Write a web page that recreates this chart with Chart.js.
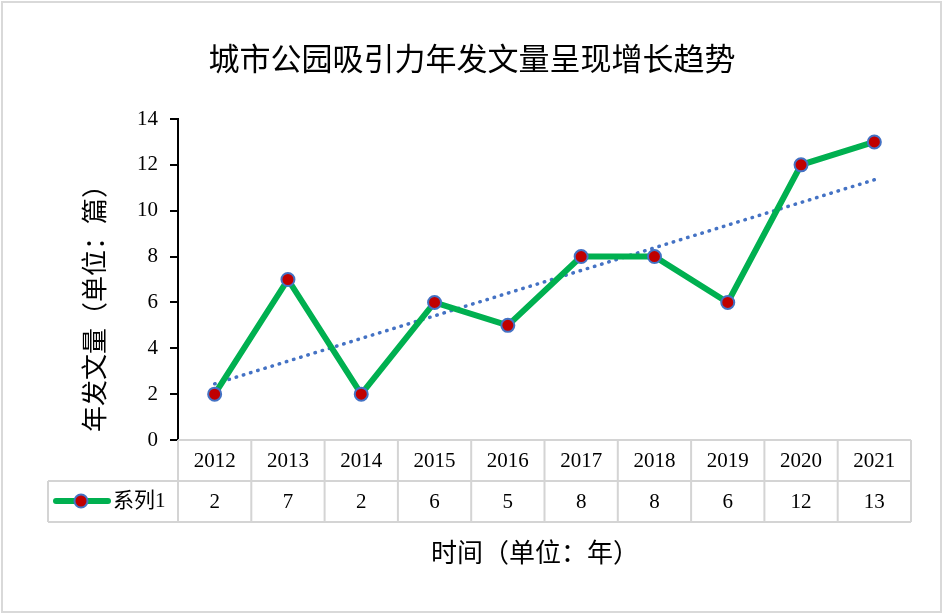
<!DOCTYPE html>
<html>
<head>
<meta charset="utf-8">
<script src="https://cdn.jsdelivr.net/npm/chart.js@4"></script>
<style>
  html, body { margin: 0; padding: 0; background: #fff; }
  #wrap { width: 944px; height: 615px; }
</style>
</head>
<body>
<div id="wrap"><canvas id="trendChart"></canvas></div>
<script>
const years = ['2012', '2013', '2014', '2015', '2016', '2017', '2018', '2019', '2020', '2021'];
const counts = [2, 7, 2, 6, 5, 8, 8, 6, 12, 13];
// trendline endpoints
const trendYears = ['2012', '2021'];
const trendValues = [2.45, 11.35];
const yTicks = [0, 2, 4, 6, 8, 10, 12, 14];

const serif = '"Liberation Serif", "Noto Sans CJK SC", serif';
const cjk = '"Noto Sans CJK SC", sans-serif';

const tablePlugin = {
    id: 'tablePlugin',
    beforeDraw(chart) {
        const c = chart.ctx;
        c.save();
        c.fillStyle = '#fff';
        c.fillRect(0, 0, chart.width, chart.height);
        c.strokeStyle = '#d9d9d9';
        c.lineWidth = 2;
        c.strokeRect(2, 2, chart.width - 5, chart.height - 5);
        c.restore();
    },
    afterDraw(chart) {
        const c = chart.ctx;
        const xs = chart.scales.x;
        const area = chart.chartArea;
        const step = (area.right - area.left) / years.length;
        const top = area.bottom, mid = top + 41, bot = mid + 41;
        const legLeft = 48;
        c.save();
        c.strokeStyle = '#d4d4d4';
        c.lineWidth = 2;
        c.beginPath();
        c.moveTo(area.left, top); c.lineTo(area.right, top);
        c.moveTo(legLeft, mid); c.lineTo(area.right, mid);
        c.moveTo(legLeft, bot); c.lineTo(area.right, bot);
        c.moveTo(legLeft, mid); c.lineTo(legLeft, bot);
        for (let i = 0; i <= years.length; i++) {
            const x = area.left + i * step;
            c.moveTo(x, top); c.lineTo(x, bot);
        }
        c.stroke();

        c.fillStyle = '#000';
        c.font = '21px ' + serif;
        c.textAlign = 'center';
        c.textBaseline = 'middle';
        years.forEach((y, i) => {
            const x = xs.getPixelForValue(i);
            c.fillText(y, x, top + 21);
            c.fillText(String(counts[i]), x, mid + 21);
        });

        // legend key
        const ly = mid + 20;
        c.strokeStyle = '#00b050';
        c.lineWidth = 6;
        c.lineCap = 'round';
        c.beginPath(); c.moveTo(56, ly); c.lineTo(108, ly); c.stroke();
        c.beginPath(); c.arc(81, ly, 6.5, 0, Math.PI * 2);
        c.fillStyle = '#c00000'; c.fill();
        c.lineWidth = 2; c.strokeStyle = '#4472c4'; c.stroke();
        c.fillStyle = '#000';
        c.textAlign = 'left';
        c.font = '21px ' + serif;
        c.fillText('系列1', 113, ly);

        // titles
        c.textAlign = 'center';
        c.font = '31px ' + cjk;
        c.fillText('城市公园吸引力年发文量呈现增长趋势', 472, 58);
        c.font = '26px ' + cjk;
        c.fillText('时间（单位：年）', 535, 552);
        c.translate(94, 302);
        c.rotate(-Math.PI / 2);
        c.fillText('年发文量（单位：篇）', 0, 0);
        c.restore();
    }
};

const ctx = document.getElementById('trendChart').getContext('2d');
new Chart(ctx, {
    type: 'line',
    data: {
        labels: years,
        datasets: [{
            label: '系列1',
            data: counts,
            borderColor: '#00b050',
            borderWidth: 6,
            pointRadius: 6.5,
            pointBackgroundColor: '#c00000',
            pointBorderColor: '#4472c4',
            pointBorderWidth: 2,
            tension: 0,
            order: 1
        }, {
            label: 'trend',
            data: trendYears.map((y, i) => ({ x: y, y: trendValues[i] })),
            borderColor: '#4472c4',
            borderWidth: 3.5,
            borderDash: [0.5, 7],
            borderCapStyle: 'round',
            pointRadius: 0,
            order: 2
        }]
    },
    options: {
        responsive: true,
        maintainAspectRatio: false,
        animation: false,
        layout: { padding: { left: 40, right: 33, top: 119, bottom: 175 } },
        plugins: {
            legend: { display: false },
            tooltip: { enabled: false }
        },
        scales: {
            x: {
                display: false,
                offset: true
            },
            y: {
                min: 0,
                max: 14,
                afterBuildTicks: (s) => { s.ticks = yTicks.map(v => ({ value: v })); },
                afterFit: (s) => { s.width = 138; },
                ticks: {
                    color: '#000',
                    padding: 12,
                    font: { family: serif, size: 21 }
                },
                grid: {
                    drawOnChartArea: false,
                    drawTicks: true,
                    tickLength: 8,
                    color: '#000',
                    lineWidth: 2
                },
                border: { display: true, color: '#000', width: 2 }
            }
        }
    },
    plugins: [tablePlugin]
});
</script>
</body>
</html>
